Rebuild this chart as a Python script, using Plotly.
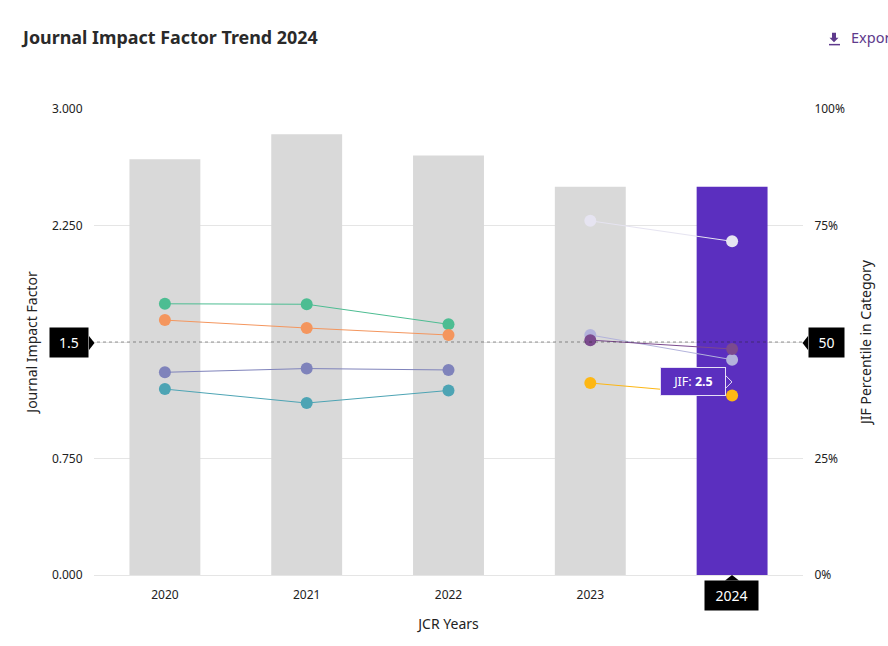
import plotly.graph_objects as go

W, H = 888, 646
L, R, T, B = 94, 85, 108.5, 70.5
FONT = "Noto Sans"

years = ["2020", "2021", "2022", "2023", "2024"]
year_labels = ["2020", "2021", "2022", "2023", ""]
jif = [2.677, 2.838, 2.70, 2.50, 2.50]
early_years = ["2020", "2021", "2022"]
late_years = ["2023", "2024"]
green = [58.2, 58.1, 53.8]
orange = [54.7, 53.0, 51.5]
slate = [43.5, 44.3, 44.0]
teal = [39.9, 36.9, 39.6]
pale = [76.0, 71.6]
lilac = [51.5, 46.2]
plum = [50.4, 48.5]
amber = [41.2, 38.5]
left_ticks = [0, 0.75, 1.5, 2.25, 3]
left_labels = ["0.000", "0.750", "", "2.250", "3.000"]
right_ticks = [0, 25, 50, 75, 100]
right_labels = ["0%", "25%", "", "75%", "100%"]


def px(x):
    return (x - L) / (W - L - R)


def py(y):
    return 1 - (y - T) / (H - T - B)


fig = go.Figure()
fig.add_bar(x=years, y=jif, width=0.5, yaxis="y", hoverinfo="skip",
            marker=dict(color=["#d9d9d9"] * 4 + ["#5b2fbf"], line_width=0))

for xs, ys, c in [
    (early_years, green, "#4dbd92"), (early_years, orange, "#f4965e"),
    (early_years, slate, "#7f83bb"), (early_years, teal, "#4da4b4"),
    (late_years, pale, "#e6e4f1"), (late_years, lilac, "#b3b3dc"),
    (late_years, plum, "#7b4a8e"), (late_years, amber, "#fdb714"),
]:
    fig.add_scatter(x=xs, y=ys, yaxis="y2", mode="lines+markers", hoverinfo="skip",
                    line=dict(color=c, width=1), marker=dict(color=c, size=12, line_width=0))

dot = dict(color="rgba(40,40,40,0.32)", width=1.5, dash="3px,3px")
shapes = [
    dict(type="line", xref="paper", yref="y", x0=px(91), x1=px(806), y0=1.5, y1=1.5, line=dot),
    dict(type="line", xref="x", yref="paper", x0="2024", x1="2024", y0=0, y1=1, line=dot),
    dict(type="path", xref="paper", yref="paper", fillcolor="black", line_width=0,
         path=f"M{px(89)},{py(336)} L{px(94.5)},{py(343)} L{px(89)},{py(350)} Z"),
    dict(type="path", xref="paper", yref="paper", fillcolor="black", line_width=0,
         path=f"M{px(808)},{py(336)} L{px(802.5)},{py(343)} L{px(808)},{py(350)} Z"),
    dict(type="path", xref="paper", yref="paper", fillcolor="black", line_width=0,
         path=f"M{px(725)},{py(581)} L{px(732)},{py(575.5)} L{px(739)},{py(581)} Z"),
    dict(type="path", xref="paper", yref="paper", fillcolor="#5e3a8c", line_width=0,
         path=f"M{px(832)},{py(32)} L{px(832)},{py(37)} L{px(829.5)},{py(37)} L{px(834)},{py(41.5)} "
              f"L{px(838.5)},{py(37)} L{px(836)},{py(37)} L{px(836)},{py(32)} Z"),
    dict(type="line", xref="paper", yref="paper", x0=px(829), x1=px(840), y0=py(44), y1=py(44),
         line=dict(color="#5e3a8c", width=1.5)),
    dict(type="path", xref="paper", yref="paper", fillcolor="#5b2fbf",
         line=dict(color="#e6e0f5", width=1),
         path=f"M{px(725)},{py(375)} L{px(732)},{py(382)} L{px(725)},{py(389)} Z"),
]


def box(x, y, text, w, h, size=14):
    return dict(xref="paper", yref="paper", x=px(x), y=py(y), text=text, showarrow=False,
                xanchor="center", yanchor="middle", width=w, height=h, bgcolor="black",
                font=dict(color="white", size=size, family=FONT))


annotations = [
    dict(xref="paper", yref="paper", x=px(19), y=py(36), text="<b>Journal Impact Factor Trend 2024</b>",
         showarrow=False, xanchor="left", yanchor="middle", font=dict(size=17.9, color="#2a2a2a", family=FONT)),
    dict(xref="paper", yref="paper", x=px(849), y=py(36), text="Export", showarrow=False,
         xanchor="left", yanchor="middle", font=dict(size=14.5, color="#5e3a8c", family=FONT)),
    box(69, 343, "1.5", 36, 27),
    box(826.5, 343, "50", 33, 27),
    box(731.5, 596, "2024", 51, 27),
    dict(xref="paper", yref="paper", x=px(693), y=py(381.5), text="JIF: <b>2.5</b>", showarrow=False,
         xanchor="center", yanchor="middle", width=62, height=25, bgcolor="#5b2fbf",
         bordercolor="#e6e0f5", borderwidth=1, font=dict(color="white", size=12.5, family=FONT)),
]

fig.update_layout(
    width=W, height=H, margin=dict(l=L, r=R, t=T, b=B), autosize=False,
    paper_bgcolor="white", plot_bgcolor="white", showlegend=False,
    font=dict(family=FONT, size=12, color="#222"),
    shapes=shapes, annotations=annotations,
    xaxis=dict(type="category", categoryorder="array", categoryarray=years,
               tickvals=years, ticktext=year_labels,
               range=[-0.5, 4.5], showgrid=False, zeroline=False,
               showline=True, linecolor="#e5e5e5", linewidth=1,
               ticks="outside", ticklen=9, tickcolor="rgba(0,0,0,0)",
               tickfont=dict(size=12, color="#222"),
               title=dict(text="JCR Years", standoff=16, font=dict(size=14, color="#222"))),
    yaxis=dict(range=[0, 3], tickvals=left_ticks, ticktext=left_labels,
               showgrid=True, gridcolor="#e5e5e5", gridwidth=1, zeroline=False,
               ticks="outside", ticklen=8, tickcolor="rgba(0,0,0,0)",
               tickfont=dict(size=12, color="#222"),
               title=dict(text="Journal Impact Factor", standoff=11, font=dict(size=14, color="#222"))),
    yaxis2=dict(range=[0, 100], overlaying="y", side="right", tickvals=right_ticks, ticktext=right_labels,
                showgrid=False, zeroline=False,
                ticks="outside", ticklen=8, tickcolor="rgba(0,0,0,0)",
                tickfont=dict(size=12, color="#222"),
                title=dict(text="JIF Percentile in Category", standoff=17, font=dict(size=14, color="#222"))),
)

fig.write_html("out.html", config={"displayModeBar": False},
               post_script="document.body.style.margin='0';document.body.style.overflow='hidden';")
